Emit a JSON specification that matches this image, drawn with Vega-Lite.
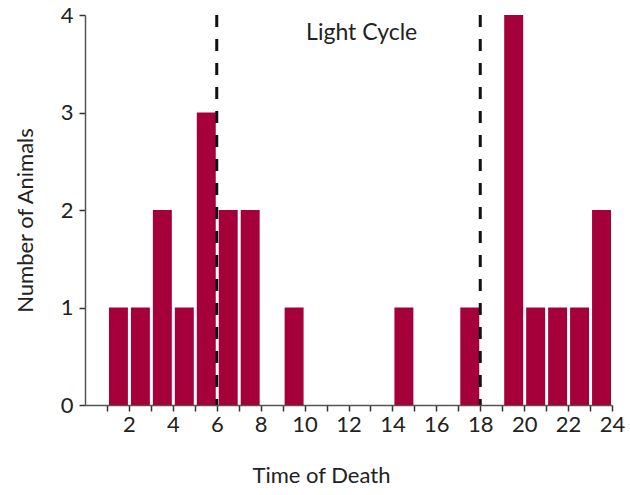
{
  "$schema": "https://vega.github.io/schema/vega-lite/v6.json",
  "width": 527,
  "height": 390,
  "autosize": {"type": "none"},
  "padding": {"left": 85, "top": 15, "right": 18, "bottom": 90},
  "background": "white",
  "config": {
    "view": {"stroke": null},
    "font": "Lato",
    "axis": {"grid": false, "domainColor": "#555", "domainWidth": 1.5, "tickColor": "#333", "tickWidth": 1.5, "labelColor": "#222", "titleColor": "#222", "labelFont": "Lato", "titleFont": "Lato", "titleFontWeight": "normal"}
  },
  "datasets": {
    "bars": [
      {"start": 1, "end": 2, "count": 1},
      {"start": 2, "end": 3, "count": 1},
      {"start": 3, "end": 4, "count": 2},
      {"start": 4, "end": 5, "count": 1},
      {"start": 5, "end": 6, "count": 3},
      {"start": 6, "end": 7, "count": 2},
      {"start": 7, "end": 8, "count": 2},
      {"start": 9, "end": 10, "count": 1},
      {"start": 14, "end": 15, "count": 1},
      {"start": 17, "end": 18, "count": 1},
      {"start": 19, "end": 20, "count": 4},
      {"start": 20, "end": 21, "count": 1},
      {"start": 21, "end": 22, "count": 1},
      {"start": 22, "end": 23, "count": 1},
      {"start": 23, "end": 24, "count": 2}
    ],
    "lines": [{"hour": 6}, {"hour": 18}],
    "label": [{"hour": 12.6, "y": 3.82, "text": "Light Cycle"}]
  },
  "layer": [
    {
      "data": {"name": "bars"},
      "mark": {"type": "bar", "color": "#A6003A", "binSpacing": 3},
      "encoding": {
        "x": {
          "field": "start", "type": "quantitative", "bin": {"binned": true, "step": 1},
          "scale": {"domain": [0, 24], "nice": false, "zero": true},
          "axis": {
            "title": "Time of Death", "titleFontSize": 22, "titlePadding": 30, "titleX": 236,
            "values": [1,2,3,4,5,6,7,8,9,10,11,12,13,14,15,16,17,18,19,20,21,22,23,24],
            "labelExpr": "datum.value % 2 == 0 ? datum.label : ''",
            "labelFontSize": 22, "tickSize": 6, "labelPadding": 3, "labelFlush": false
          }
        },
        "x2": {"field": "end"},
        "y": {
          "field": "count", "type": "quantitative",
          "scale": {"domain": [0, 4], "nice": false},
          "axis": {"title": "Number of Animals", "titleFontSize": 22, "titlePadding": 23, "titleY": 205, "values": [0,1,2,3,4], "format": "d", "labelFontSize": 22, "tickSize": 6, "labelPadding": 6}
        }
      }
    },
    {
      "data": {"name": "lines"},
      "mark": {"type": "rule", "color": "#111", "strokeWidth": 3, "strokeDash": [12, 12]},
      "encoding": {"x": {"field": "hour", "type": "quantitative"}}
    },
    {
      "data": {"name": "label"},
      "mark": {"type": "text", "fontSize": 23, "color": "#222", "font": "Lato"},
      "encoding": {
        "x": {"field": "hour", "type": "quantitative"},
        "y": {"field": "y", "type": "quantitative"},
        "text": {"field": "text"}
      }
    }
  ]
}
